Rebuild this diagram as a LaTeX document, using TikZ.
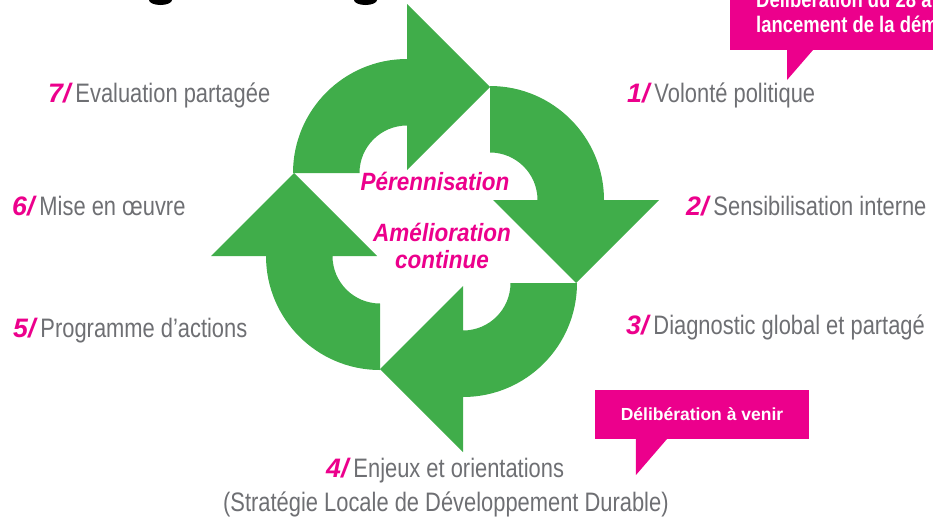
\documentclass[tikz,border=0pt]{standalone}
\usepackage{fontspec}
\setmainfont{Liberation Sans}[FakeStretch=0.82]
\newfontfamily\numfont{Liberation Sans}
\newfontfamily\centrefont{Liberation Sans}[FakeStretch=0.9]
\newfontfamily\bullefont{Liberation Sans}[FakeStretch=0.82]
\definecolor{vert}{RGB}{64,173,74}
\definecolor{rose}{RGB}{236,0,140}
\definecolor{gris}{RGB}{110,111,115}
\newcommand{\numero}[1]{{\numfont\bfseries\itshape\color{rose}#1}\hspace{5pt}}

\begin{document}
\begin{tikzpicture}[x=1pt,y=1pt]
    \tikzstyle{etape}=[anchor=base west, inner sep=0pt, text=gris, font=\fontsize{26.7}{30}\selectfont]
    \tikzstyle{centre}=[anchor=base, inner sep=0pt, text=rose, font=\centrefont\bfseries\itshape\fontsize{25}{28}\selectfont]
    \useasboundingbox (0,0) rectangle (933,-517);
    \clip (0,0) rectangle (933,-517);
    % bas du titre
    \fill (149,0) arc[start angle=180, end angle=360, x radius=11.5, y radius=5] -- cycle;
    \fill (354,0) arc[start angle=180, end angle=360, x radius=11.5, y radius=5] -- cycle;
    % les quatre fleches
    \foreach \a in {0,-90,-180,-270} {
      \begin{scope}[shift={(435,-228)}, rotate=\a, shift={(-28,55)}]
        \fill[vert] (-114,0) arc[start angle=180, end angle=90, radius=114]
            -- (0,47.5) arc[start angle=90, end angle=180, radius=47.5] -- cycle
            (0,169) -- (83,86) -- (0,3) -- cycle;
      \end{scope}
    }
    \node[centre] (perennisation) at (435,-190) {Pérennisation};
    \node[centre] (amelioration) at (442,-241) {Amélioration};
    \node[centre] (continue) at (442,-268) {continue};
    % etapes
    \node[etape] (evaluation) at (48,-102) {\numero{7/}Evaluation partagée};
    \node[etape] (volonte) at (627,-102) {\numero{1/}Volonté politique};
    \node[etape] (miseenoeuvre) at (12,-215) {\numero{6/}Mise en œuvre};
    \node[etape] (sensibilisation) at (686,-215) {\numero{2/}Sensibilisation interne};
    \node[etape] (programme) at (13,-337) {\numero{5/}Programme d’actions};
    \node[etape] (diagnostic) at (626,-334) {\numero{3/}Diagnostic global et partagé};
    \node[etape] (enjeux) at (326,-477) {\numero{4/}Enjeux et orientations};
    \node[etape] (strategie) at (223,-511) {(Stratégie Locale de Développement Durable)};
    % bulles
    \fill[rose] (730,20) rectangle (950,-50);
    \fill[rose] (787,-50) -- (813,-50) -- (787,-80) -- cycle;
    \node[anchor=base west, inner sep=0pt, text=white, font=\bullefont\bfseries\fontsize{22.5}{25}\selectfont] (avril) at (756,-7) {Délibération du 28 av};
    \node[anchor=base west, inner sep=0pt, text=white, font=\bullefont\bfseries\fontsize{22.5}{25}\selectfont] (lancement) at (756,-32) {lancement de la dém};
    \node[fill=rose, text=white, minimum width=214pt, minimum height=49pt, inner sep=0pt, font=\numfont\bfseries\fontsize{17.5}{20}\selectfont] (avenir) at (702,-414.5) {Délibération à venir};
    \fill[rose] ([xshift=41pt]avenir.south west) -- ++(31,0) -- ++(-31,-36) -- cycle;
\end{tikzpicture}
\end{document}
